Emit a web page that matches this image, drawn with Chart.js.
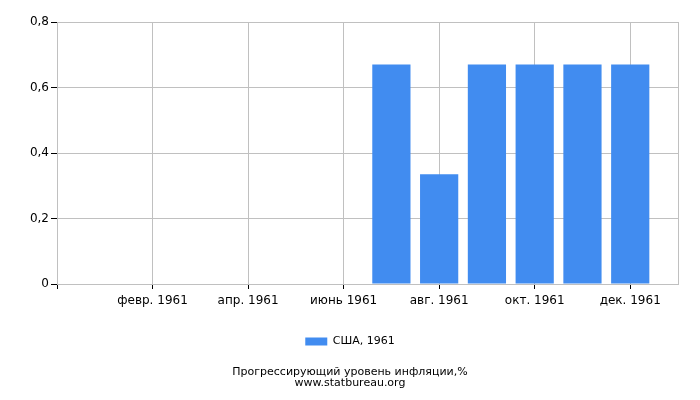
<!DOCTYPE html>
<html>
<head>
<meta charset="utf-8">
<script src="https://cdn.jsdelivr.net/npm/chart.js@4/dist/chart.umd.min.js"></script>
<style>
html,body{margin:0;padding:0;background:#fff;}
#wrap{width:700px;height:400px;}
</style>
</head>
<body>
<div id="wrap"><canvas id="c" width="700" height="400"></canvas></div>
<script>
const months = ['янв. 1961','февр. 1961','март 1961','апр. 1961','май 1961','июнь 1961','июль 1961','авг. 1961','сент. 1961','окт. 1961','нояб. 1961','дек. 1961'];
const values = [0, 0, 0, 0, 0, 0, 0.67, 0.335, 0.67, 0.67, 0.67, 0.67];
const labeledMonths = [2, 4, 6, 8, 10, 12];
const yTicks = [0, 0.2, 0.4, 0.6, 0.8];
const seriesName = 'США, 1961';
const titleLines = ['Прогрессирующий уровень инфляции,%', 'www.statbureau.org'];

const FONT = 'DejaVu Sans';
const GRID = '#c0c0c0';

new Chart(document.getElementById('c'), {
  type: 'bar',
  data: {
    datasets: [{
      label: seriesName,
      data: values.map((v, i) => ({x: i + 1, y: v})),
      backgroundColor: '#418cf0',
      borderWidth: 0,
      barPercentage: 0.8,
      categoryPercentage: 1.0
    }]
  },
  options: {
    responsive: false,
    animation: false,
    devicePixelRatio: 1,
    layout: {padding: {left: 0, right: 0, top: 22, bottom: 11}},
    scales: {
      x: {
        type: 'linear',
        min: 0,
        max: 13,
        offset: false,
        afterBuildTicks: s => { s.ticks = [0].concat(labeledMonths, [13]).map(v => ({value: v})); },
        afterFit: s => { s.height = 42; },
        ticks: {
          autoSkip: false,
          maxRotation: 0,
          color: '#000',
          font: {family: FONT, size: 12},
          padding: 5,
          callback: v => (v >= 1 && v <= 12) ? months[v - 1] : ''
        },
        grid: {
          offset: false,
          color: GRID,
          tickLength: 5,
          tickColor: ctx => (ctx.tick && ctx.tick.value === 13) ? 'rgba(0,0,0,0)' : '#000'
        },
        border: {color: GRID}
      },
      y: {
        min: 0,
        max: 0.8,
        afterBuildTicks: s => { s.ticks = yTicks.map(v => ({value: v})); },
        afterFit: s => { s.width = 57; },
        ticks: {
          color: '#000',
          font: {family: FONT, size: 12},
          padding: 2,
          callback: v => String(Number(v.toFixed(1))).replace('.', ',')
        },
        grid: {color: GRID, tickLength: 6, tickColor: '#000'},
        border: {color: GRID}
      },
      spacer: {
        position: 'right',
        type: 'linear',
        min: 0,
        max: 1,
        afterBuildTicks: s => { s.ticks = []; },
        afterFit: s => { s.width = 22; },
        ticks: {display: false},
        grid: {display: false, drawTicks: false},
        border: {display: false}
      }
    },
    plugins: {
      legend: {
        position: 'bottom',
        labels: {
          color: '#000',
          font: {family: FONT, size: 11},
          boxWidth: 22,
          boxHeight: 8,
          padding: 10
        }
      },
      title: {
        display: true,
        position: 'bottom',
        text: titleLines,
        color: '#000',
        font: {family: FONT, size: 11, weight: 'normal', lineHeight: 1.0},
        padding: {top: 10, bottom: 0}
      },
      tooltip: {enabled: false}
    }
  },
  plugins: [{
    id: 'rightBorder',
    afterDraw(chart) {
      const a = chart.chartArea, c = chart.ctx;
      c.save();
      c.strokeStyle = GRID;
      c.lineWidth = 1;
      c.beginPath();
      c.moveTo(Math.round(a.right) + 0.5, a.top);
      c.lineTo(Math.round(a.right) + 0.5, a.bottom);
      c.stroke();
      c.restore();
    }
  }]
});
</script>
</body>
</html>
